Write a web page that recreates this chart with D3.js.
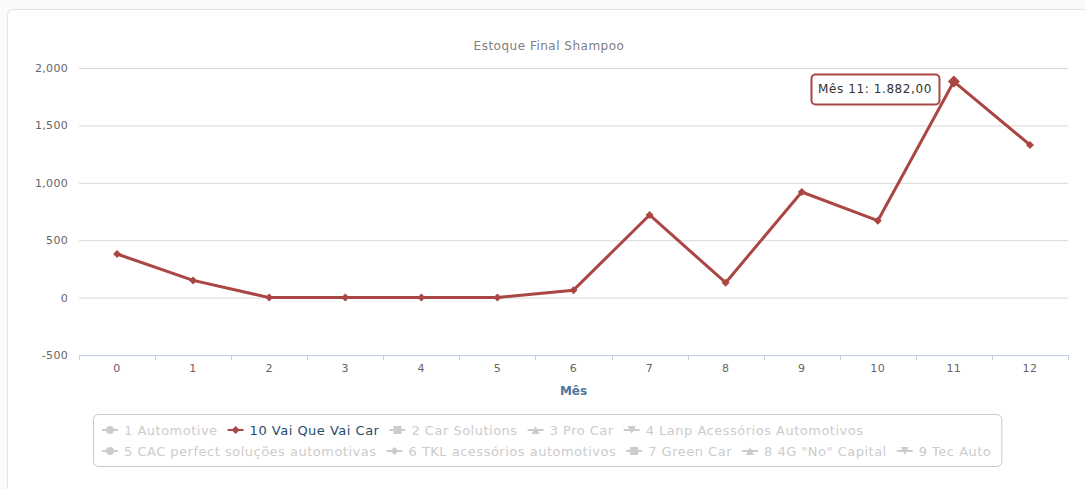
<!DOCTYPE html>
<html>
<head>
<meta charset="utf-8">
<script src="https://cdn.jsdelivr.net/npm/d3@7/dist/d3.min.js"></script>
<style>
  body { margin: 0; background: #fafafa; font-family: "DejaVu Sans", Verdana, sans-serif; }
  svg { display: block; }
</style>
</head>
<body>
<svg id="chart" width="1085" height="489"></svg>
<script>
// months on the x axis
var months = [0, 1, 2, 3, 4, 5, 6, 7, 8, 9, 10, 11, 12];
// stock values for "10 Vai Que Vai Car" (the only visible series)
var stockValues = [380, 150, 0, 0, 0, 0, 65, 720, 130, 920, 670, 1882, 1330];
var yTicks = [-500, 0, 500, 1000, 1500, 2000];
// legend, in the order the chart lists them
var seriesNames = ["1 Automotive", "10 Vai Que Vai Car", "2 Car Solutions", "3 Pro Car", "4 Lanp Acessórios Automotivos",
                   "5 CAC perfect soluções automotivas", "6 TKL acessórios automotivos", "7 Green Car", "8 4G \"No\" Capital", "9 Tec Auto"];
var seriesSymbols = ["circle", "diamond", "square", "triangle", "triangle-down",
                     "circle", "diamond", "square", "triangle", "triangle-down"];
var seriesVisible = [false, true, false, false, false, false, false, false, false, false];
var legendRows = [5, 5];   // items per legend row
var hoverIndex = 11;        // point that shows the tooltip

var lineColor = "#AA4643";
var svg = d3.select("#chart");

// card behind the chart
svg.append("rect")
   .attr("x", 7.5).attr("y", 9.5)
   .attr("width", 1090).attr("height", 500)
   .attr("rx", 6)
   .attr("fill", "#fff")
   .attr("stroke", "#e2e2e6");

var plot = { left: 79, right: 1068, top: 68, bottom: 355 };

var x = d3.scaleBand()
          .domain(months)
          .range([plot.left, plot.right]);
var y = d3.scaleLinear()
          .domain([-500, 2000])
          .range([plot.bottom, plot.top]);
function cx(d) { return x(d) + x.bandwidth() / 2; }

// title
svg.append("text")
   .attr("x", 549).attr("y", 50)
   .attr("text-anchor", "middle")
   .attr("fill", "#808080")
   .style("font-size", "12px")
   .style("letter-spacing", "0.5px")
   .text("Estoque Final Shampoo");

// gridlines + y labels (plain hyphen for negatives, like the original)
var yAxis = d3.axisLeft(y)
              .tickValues(yTicks)
              .tickSize(-(plot.right - plot.left))
              .tickPadding(11)
              .tickFormat(function(d) { return d3.format(",")(d).replace("\u2212", "-"); });
var gy = svg.append("g")
            .attr("transform", "translate(" + plot.left + ",0)")
            .call(yAxis);
gy.select(".domain").remove();
gy.selectAll(".tick line").attr("stroke", "#d8d8d8");
gy.selectAll(".tick text")
  .attr("fill", "#666")
  .style("font-size", "11px")
  .style("letter-spacing", "0.3px")
  .style("font-family", "DejaVu Sans, Verdana, sans-serif");

// x axis: line + ticks between categories
svg.append("line")
   .attr("x1", plot.left).attr("x2", plot.right)
   .attr("y1", plot.bottom + 0.5).attr("y2", plot.bottom + 0.5)
   .attr("stroke", "#c0d0e0");
var edges = months.map(function(m) { return x(m); }).concat([plot.right]);
svg.selectAll(".xtick")
   .data(edges)
   .enter()
   .append("line")
   .attr("class", "xtick")
   .attr("x1", function(d) { return Math.round(d) + 0.5; })
   .attr("x2", function(d) { return Math.round(d) + 0.5; })
   .attr("y1", plot.bottom).attr("y2", plot.bottom + 5)
   .attr("stroke", "#c0d0e0");
svg.selectAll(".xlabel")
   .data(months)
   .enter()
   .append("text")
   .attr("class", "xlabel")
   .attr("x", cx)
   .attr("y", plot.bottom + 17)
   .attr("text-anchor", "middle")
   .attr("fill", "#666")
   .style("font-size", "11px")
   .style("letter-spacing", "0.5px")
   .text(function(d) { return d; });
svg.append("text")
   .attr("x", (plot.left + plot.right) / 2)
   .attr("y", plot.bottom + 40)
   .attr("text-anchor", "middle")
   .attr("fill", "#4d759e")
   .style("font-size", "12px")
   .style("font-weight", "bold")
   .text("Mês");

// series line
var line = d3.line()
             .x(function(d, i) { return cx(months[i]); })
             .y(function(d) { return y(d); });
svg.append("path")
   .datum(stockValues)
   .attr("d", line)
   .attr("fill", "none")
   .attr("stroke", lineColor)
   .attr("stroke-width", 3)
   .attr("stroke-linejoin", "round");

// marker shapes, the way highcharts draws them
function symbolPath(type, r) {
  switch (type) {
    case "circle": return "M" + (-r) + ",0A" + r + "," + r + " 0 1,0 " + r + ",0A" + r + "," + r + " 0 1,0 " + (-r) + ",0Z";
    case "diamond": return "M0," + (-r) + "L" + r + ",0L0," + r + "L" + (-r) + ",0Z";
    case "square": return "M" + (-r) + "," + (-r) + "H" + r + "V" + r + "H" + (-r) + "Z";
    case "triangle": return "M0," + (-r) + "L" + r + "," + r + "H" + (-r) + "Z";
    default: return "M" + (-r) + "," + (-r) + "H" + r + "L0," + r + "Z";
  }
}

svg.selectAll(".pt")
   .data(stockValues)
   .enter()
   .append("path")
   .attr("class", "pt")
   .attr("transform", function(d, i) { return "translate(" + cx(months[i]) + "," + y(d) + ")"; })
   .attr("d", function(d, i) { return symbolPath("diamond", i == hoverIndex ? 6 : 4); })
   .attr("fill", lineColor);

// tooltip for the hovered point
var fmtBR = d3.formatLocale({ decimal: ",", thousands: ".", grouping: [3], currency: ["R$", ""] }).format(",.2f");
var tipText = "Mês " + months[hoverIndex] + ": " + fmtBR(stockValues[hoverIndex]);
var tip = svg.append("g");
var tipLabel = tip.append("text")
                  .attr("fill", "#333")
                  .style("font-size", "12px")
                  .style("letter-spacing", "0.6px")
                  .text(tipText);
var tw = tipLabel.node().getComputedTextLength();
var tipW = tw + 14, tipH = 30;
var px = cx(months[hoverIndex]), py = y(stockValues[hoverIndex]);
var tipX = Math.round(px - 15 - tipW), tipY = Math.round(py - 8);
tip.insert("rect", "text")
   .attr("x", tipX + 0.5).attr("y", tipY + 0.5)
   .attr("width", tipW).attr("height", tipH)
   .attr("rx", 4)
   .attr("fill", "#fff")
   .attr("stroke", lineColor)
   .attr("stroke-width", 2);
tipLabel.attr("x", tipX + 7).attr("y", tipY + 19);

// legend, flowing in two rows
var legend = svg.append("g");
var legX0 = 102, rowY = [430, 451], itemGap = 10;
var idx = 0, maxRight = 0;
legendRows.forEach(function(count, r) {
  var xpos = legX0;
  for (var k = 0; k < count; k++, idx++) {
    var col = seriesVisible[idx] ? lineColor : "#ccc";
    var g = legend.append("g").attr("transform", "translate(" + xpos + "," + rowY[r] + ")");
    g.append("line")
     .attr("x1", 0).attr("x2", 16)
     .attr("stroke", col)
     .attr("stroke-width", 2);
    g.append("path")
     .attr("transform", "translate(8,0)")
     .attr("d", symbolPath(seriesSymbols[idx], 4))
     .attr("fill", col);
    var t = g.append("text")
             .attr("x", 22).attr("y", 4.5)
             .attr("fill", seriesVisible[idx] ? "#274b6d" : "#ccc")
             .style("font-size", "13px")
             .style("letter-spacing", "0.5px")
             .text(seriesNames[idx]);
    var w = 22 + t.node().getComputedTextLength();
    maxRight = Math.max(maxRight, xpos + w);
    xpos += w + itemGap;
  }
});
legend.insert("rect", "g")
      .attr("x", 93.5).attr("y", 414.5)
      .attr("width", maxRight + 10 - 93).attr("height", 52)
      .attr("rx", 5)
      .attr("fill", "#fff")
      .attr("stroke", "#c8c8c8");
</script>
</body>
</html>
